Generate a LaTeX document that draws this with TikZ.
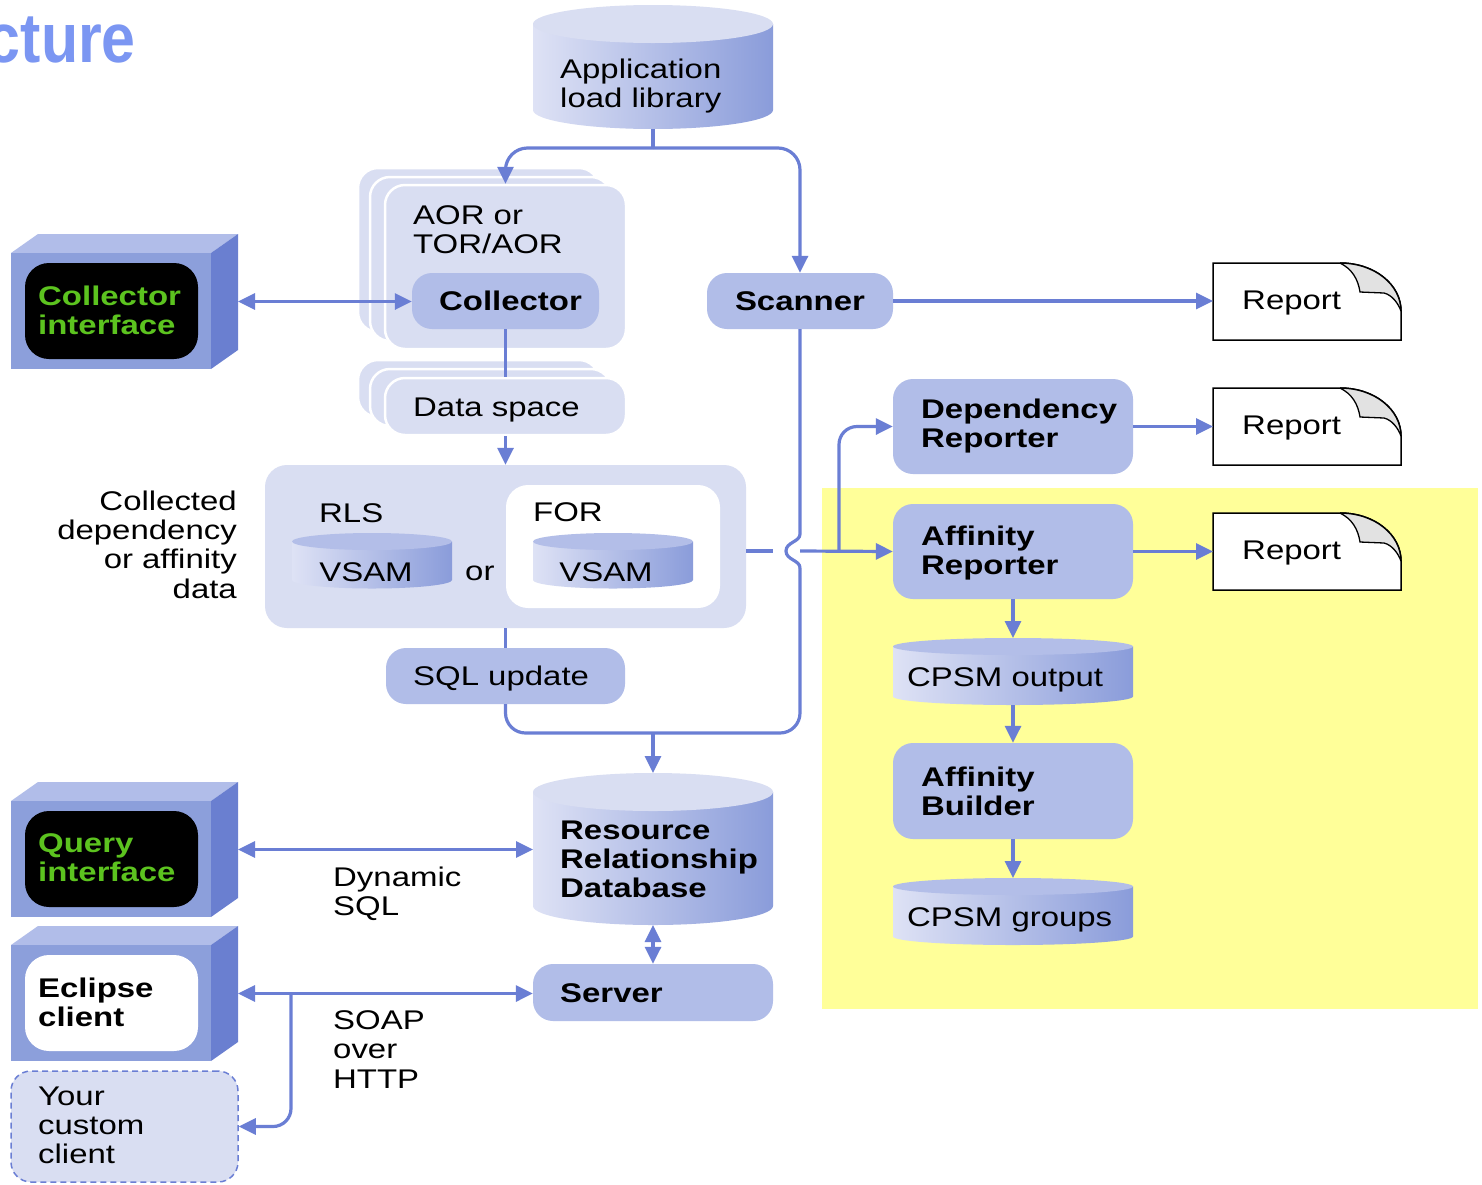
\documentclass[tikz,border=0pt]{standalone}
\usepackage{fontspec}
\setmainfont{Liberation Sans}[FakeStretch=1.22]
\newfontfamily\titlefont{Liberation Sans}[FakeStretch=0.87]
\usetikzlibrary{arrows.meta}
\definecolor{lineblue}{HTML}{6A7ED4}
\definecolor{boxdark}{HTML}{B1BDE8}
\definecolor{boxlight}{HTML}{D9DEF2}
\definecolor{cubefront}{HTML}{8C9FDB}
\definecolor{cubetop}{HTML}{B1BDE9}
\definecolor{cuberight}{HTML}{6A7FD0}
\definecolor{greentext}{HTML}{5CC31F}
\definecolor{titleblue}{HTML}{7B96F2}
\definecolor{yellowbg}{HTML}{FFFF99}
\definecolor{cylL}{HTML}{DEE2F5}
\definecolor{cylR}{HTML}{8A9CDA}
\definecolor{cylTop}{HTML}{D9DEF2}
\definecolor{cylTopB}{HTML}{B3BEE8}
\definecolor{foldgray}{HTML}{E2E2E2}
\tikzset{
  stackbox/.style={fill=boxlight, draw=white, line width=2.5pt, rounded corners=20, inner sep=0},
  darkbox/.style={fill=boxdark, rounded corners=20, inner sep=0},
  conn/.style={draw=lineblue, line width=3.2pt},
  arr/.style={conn, -{Triangle[length=17pt,width=16pt]}},
  darr/.style={conn, {Triangle[length=17pt,width=16pt]}-{Triangle[length=17pt,width=16pt]}},
  txt/.style={inner sep=0, anchor=north west, align=left},
  btxt/.style={inner sep=0, anchor=base west},
  bold/.style={font=\fontsize{27}{29.3}\selectfont\bfseries},
}
% cylinder: name, xl, xr, top-ellipse centre y, bottom-ellipse centre y, ry, top colour
\newcommand\mkcyl[7]{%
  \pgfmathsetmacro\cxc{(#2+#3)/2}%
  \pgfmathsetmacro\crx{(#3-#2)/2}%
  \pgfmathsetmacro\cka{0.5523*#6}%
  \pgfmathsetmacro\ckb{0.5523*\crx}%
  \shade[left color=cylL, right color=cylR]
    (#2,#4) -- (#2,#5) .. controls (#2,{#5+\cka}) and ({\cxc-\ckb},{#5+#6}) .. (\cxc,{#5+#6})
    .. controls ({\cxc+\ckb},{#5+#6}) and (#3,{#5+\cka}) .. (#3,#5) -- (#3,#4) -- cycle;
  \fill[#7] (\cxc,#4) ellipse [x radius=\crx, y radius=#6];
  \node[inner sep=0, outer sep=0, minimum width={#3-#2}, minimum height={#5-#4+2*#6}] (#1) at (\cxc,{(#4+#5)/2}) {};
}
% cube: name, y of top, inner fill
\newcommand\mkcube[3]{%
  \fill[cubetop] (11,{#2+19}) -- (38,#2) -- (238,#2) -- (211,{#2+19}) -- cycle;
  \fill[cuberight] (211,{#2+19}) -- (238,#2) -- (238,{#2+116}) -- (211,{#2+135}) -- cycle;
  \fill[cubefront] (11,{#2+19}) rectangle (211,{#2+135});
  \fill[#3, rounded corners=24] (25,{#2+29}) rectangle (198,{#2+125});
  \node[inner sep=0, outer sep=0, minimum width=227, minimum height=135] (#1) at (124.5,{#2+67.5}) {};
}
% report page: name, top y
\newcommand\mkreport[2]{%
  \draw[black, line width=1.5pt, fill=white] (1213,#2) -- (1340,#2)
    .. controls (1375,#2) and (1401,{#2+22}) .. (1401,{#2+48}) -- (1401,{#2+77}) -- (1213,{#2+77}) -- cycle;
  \fill[foldgray] (1340,#2) .. controls (1352,{#2+6}) and (1358,{#2+16}) .. (1360,{#2+29})
    -- (1384,{#2+30}) .. controls (1392,{#2+32}) and (1398,{#2+40}) .. (1401,{#2+48})
    .. controls (1401,{#2+22}) and (1375,#2) .. (1340,#2) -- cycle;
  \draw[black, line width=1.3pt] (1340,#2) .. controls (1352,{#2+6}) and (1358,{#2+16}) .. (1360,{#2+29})
    -- (1384,{#2+30}) .. controls (1392,{#2+32}) and (1398,{#2+40}) .. (1401,{#2+48});
  \draw[black, line width=1.5pt] (1340,#2) .. controls (1375,#2) and (1401,{#2+22}) .. (1401,{#2+48});
  \node[inner sep=0, outer sep=0, minimum width=188, minimum height=77] (#1) at (1307,{#2+38.5}) {};
  \node[btxt] (#1txt) at (1242,{#2+46}) {Report};
}
\begin{document}
\begin{tikzpicture}[x=1pt, y=-1pt, font=\fontsize{27}{29.3}\selectfont]
\useasboundingbox (0,0) rectangle (1482,1184);
\fill[white] (0,0) rectangle (1482,1184);
% yellow area
\fill[yellowbg] (822,488) rectangle (1478,1009);

% title (cut off at the left edge, as in the reference)
\node[anchor=base east, inner sep=0, text=titleblue, font=\titlefont\fontsize{70}{70}\selectfont\bfseries] (title) at (136,62) {cture};

% application load library
\mkcyl{applib}{533}{773}{24}{110}{19}{cylTop}
\node[txt] (applibtxt) at (560,58.5) {Application\\load library};

% AOR stack
\draw[stackbox] (358,168) rectangle ++(241,164);
\draw[stackbox] (370,177) rectangle ++(241,164);
\node[stackbox, minimum width=241, minimum height=164] (aor) at (505.5,267) {};
\node[txt] (aortxt) at (413,205.5) {AOR or\\TOR/AOR};
\node[darkbox, bold, minimum width=187, minimum height=56] (collector) at (505.5,301) {\hspace{10pt}Collector};

% data space stack
\draw[stackbox] (358,360) rectangle ++(241,57);
\draw[stackbox] (370,369) rectangle ++(241,57);
\node[stackbox, minimum width=241, minimum height=57] (dspace) at (505.5,406.5) {};
\node[btxt] (dstxt) at (413,416) {Data space};

% VSAM container
\node[fill=boxlight, rounded corners=22, inner sep=0, minimum width=481, minimum height=163] (vbox) at (505.5,546.5) {};
\node[fill=white, rounded corners=22, inner sep=0, minimum width=214, minimum height=123] (forbox) at (613,546.5) {};
\node[btxt] (rls) at (319,522) {RLS};
\node[btxt] (for) at (533,521) {FOR};
\mkcyl{vsaml}{292}{452}{541.5}{580}{8.5}{cylTopB}
\mkcyl{vsamr}{533}{693}{541.5}{580}{8.5}{cylTopB}
\node[inner sep=0, anchor=base] (vsamltxt) at (366,581) {VSAM};
\node[inner sep=0, anchor=base] (vsamrtxt) at (606,581) {VSAM};
\node[btxt] (ortxt) at (465,580) {or};
\node[inner sep=0, anchor=north east, align=right] (colltxt) at (237,490.5) {Collected\\dependency\\or affinity\\data};

% SQL update
\node[darkbox, minimum width=239, minimum height=56] (sql) at (505.5,676) {};
\node[btxt] (sqltxt) at (413,685) {SQL update};

% scanner
\node[darkbox, bold, minimum width=186, minimum height=56] (scanner) at (800,301) {Scanner};

% reports
\mkreport{rep1}{263}
\mkreport{rep2}{388}
\mkreport{rep3}{513}

% reporters
\node[darkbox, minimum width=240, minimum height=95] (deprep) at (1013,426.5) {};
\node[txt, bold] (depreptxt) at (921,398.5) {Dependency\\Reporter};
\node[darkbox, minimum width=240, minimum height=95] (affrep) at (1013,551.5) {};
\node[txt, bold] (affreptxt) at (921,525.5) {Affinity\\Reporter};
\mkcyl{cpsmout}{893}{1133}{646.5}{696.5}{8.5}{cylTopB}
\node[btxt] (cpsmouttxt) at (907,686) {CPSM output};
\node[darkbox, minimum width=240, minimum height=96] (affbld) at (1013,791) {};
\node[txt, bold] (affbldtxt) at (921,766.5) {Affinity\\Builder};
\mkcyl{cpsmgrp}{893}{1133}{886.5}{936.5}{8.5}{cylTopB}
\node[btxt] (cpsmgrptxt) at (907,926) {CPSM groups};

% resource relationship database and server
\mkcyl{rrd}{533}{773}{792}{906}{19}{cylTop}
\node[txt, bold] (rrdtxt) at (560,820.5) {Resource\\Relationship\\Database};
\node[darkbox, minimum width=240, minimum height=57] (server) at (653,992.5) {};
\node[btxt, bold] (servertxt) at (560,1002) {Server};

% cubes
\mkcube{ci}{234}{black}
\node[txt, bold, text=greentext] (citxt) at (38,285.5) {Collector\\interface};
\mkcube{qi}{782}{black}
\node[txt, bold, text=greentext] (qitxt) at (38,833.5) {Query\\interface};
\mkcube{ec}{926}{white}
\node[txt, bold] (ectxt) at (38,977.5) {Eclipse\\client};
\node[draw=lineblue, dash pattern=on 6pt off 4pt, line width=1.5pt, fill=boxlight, rounded corners=20, inner sep=0, minimum width=227, minimum height=111] (cc) at (124.5,1126.5) {};
\node[txt] (cctxt) at (38,1086.5) {Your\\custom\\client};

% connector labels
\node[txt] (dyntxt) at (333,866.5) {Dynamic\\SQL};
\node[txt] (soaptxt) at (333,1010.5) {SOAP\\over\\HTTP};

% helper coordinates
\coordinate (split) at (653,148);
\coordinate (loopmid) at (653,733);
\coordinate (hopB) at (800,568);
\coordinate (hopT) at (800,534);
\coordinate (gapL) at (773,551);
\coordinate (hopR) at (800,551);
\coordinate (branch) at (839,551);
\coordinate (sb) at (291,993);

% connectors
\draw[conn] (applib.south) -- (split);
\draw[arr, rounded corners=22] (split) -| (aor.north);
\draw[arr, rounded corners=22] (split) -| (scanner.north);
\draw[darr] (ci.east) -- (ci.east -| collector.west);
\draw[conn] (collector.south) -- (dspace.north);
\draw[arr] (dspace.south) -- (vbox.north);
\draw[conn] (vbox.south) -- (sql.north);
\draw[conn, rounded corners=20] (sql.south) |- (loopmid) -| (hopB);
\draw[conn] (hopB) .. controls (800,560) and (786,560) .. (786,551) .. controls (786,542) and (800,542) .. (hopT) -- (scanner.south);
\draw[arr] (loopmid) -- (rrd.north);
\draw[arr] (scanner.east) -- (scanner.east -| rep1.west);
\draw[conn] (gapL -| vbox.east) -- (gapL);
\draw[arr] (hopR) -- (affrep.west);
\draw[arr, rounded corners=18] (branch) |- (deprep.west);
\draw[arr] (deprep.east) -- (rep2.west);
\draw[arr] (affrep.east) -- (rep3.west);
\draw[arr] (affrep.south) -- (cpsmout.north);
\draw[arr] (cpsmout.south) -- (affbld.north);
\draw[arr] (affbld.south) -- (cpsmgrp.north);
\draw[darr] (qi.east) -- (qi.east -| rrd.west);
\draw[darr] (rrd.south) -- (server.north);
\draw[darr] (ec.east) -- (ec.east -| server.west);
\draw[arr, rounded corners=18] (sb) |- (cc.east);
\end{tikzpicture}
\end{document}
